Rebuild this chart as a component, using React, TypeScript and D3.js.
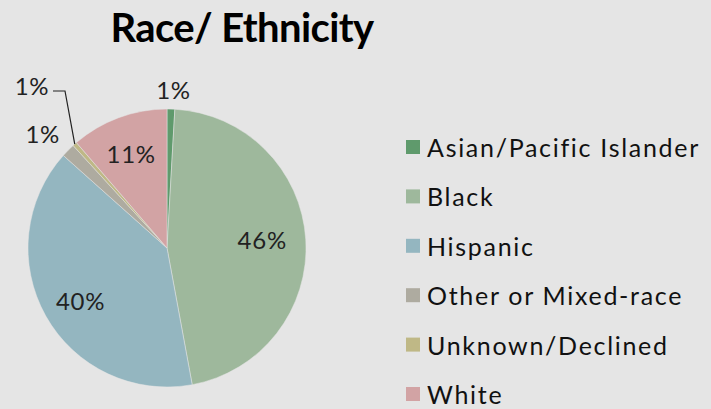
import React from "react";
import * as d3 from "d3";

const categories = ["Asian/Pacific Islander", "Black", "Hispanic", "Other or Mixed-race", "Unknown/Declined", "White"];
const values = [0.9, 46.2, 39.5, 1.6, 0.5, 11.3];
const labels = ["1%", "46%", "40%", "1%", "1%", "11%"];
const colors = ["#5f9a6c", "#9eb89c", "#94b6c0", "#aeaba0", "#bfb886", "#d2a3a4"];

const W = 711, H = 409;
const cx = 167, cy = 248, R = 139;
const FONT = "'Lato', 'DejaVu Sans', sans-serif";

export default function App() {
  const pie = d3.pie<number>().sort(null).value((d) => d);
  const arcs = pie(values);
  const arcGen = d3.arc<d3.PieArcDatum<number>>().innerRadius(0).outerRadius(R);
  const labelArc = d3.arc<d3.PieArcDatum<number>>().innerRadius(R * 0.68).outerRadius(R * 0.68);

  const labelPos = (i: number, a: d3.PieArcDatum<number>): [number, number] => {
    const mid = (a.startAngle + a.endAngle) / 2;
    if (i === 0) {
      const r = R + 20;
      return [Math.sin(mid) * r + 2, -Math.cos(mid) * r];
    }
    if (i === 3) {
      const r = R + 30;
      return [Math.sin(mid) * r - 4, -Math.cos(mid) * r + 4];
    }
    if (i === 4) {
      return [-135, -163];
    }
    const c = labelArc.centroid(a);
    if (i === 1) return [c[0] + 1, c[1] - 3];
    if (i === 2) return [c[0] - 4, c[1] + 6];
    if (i === 5) return [c[0] - 3, c[1] - 6];
    return c as [number, number];
  };

  const legendY = d3.scalePoint<string>().domain(categories).range([147, 394]);

  const unk = arcs[4];
  const unkMid = (unk.startAngle + unk.endAngle) / 2;
  const edge: [number, number] = [Math.sin(unkMid) * R, -Math.cos(unkMid) * R];

  return (
    <svg width={W} height={H} style={{ position: "absolute", left: 0, top: 0, background: "#e5e5e5" }}>
      <rect x={0} y={0} width={W} height={H} fill="#e5e5e5" />
      <text x={242} y={42} textAnchor="middle" fontFamily={FONT} fontWeight={700} fontSize={40} letterSpacing={-0.6} fill="#000">
        Race/ Ethnicity
      </text>
      <g transform={`translate(${cx},${cy})`}>
        {arcs.map((a, i) => (
          <path key={i} d={arcGen(a) || ""} fill={colors[i]} stroke="#e5e5e5" strokeWidth={0.5} />
        ))}
        <polyline
          points={`${-114},${-157} ${-102},${-157} ${edge[0]},${edge[1]}`}
          fill="none"
          stroke="#222"
          strokeWidth={1.2}
        />
        {arcs.map((a, i) => {
          const [x, y] = labelPos(i, a);
          return (
            <text key={i} x={x} y={y} textAnchor="middle" dominantBaseline="central" fontFamily={FONT} fontSize={24} letterSpacing={0.8} fill="#222">
              {labels[i]}
            </text>
          );
        })}
      </g>
      <g>
        {categories.map((c, i) => {
          const y = legendY(c) || 0;
          return (
            <g key={c}>
              <rect x={406} y={y - 7} width={14} height={14} fill={colors[i]} />
              <text x={427} y={y} dominantBaseline="central" fontFamily={FONT} fontSize={25} letterSpacing={1.7} fill="#111">
                {c}
              </text>
            </g>
          );
        })}
      </g>
    </svg>
  );
}
